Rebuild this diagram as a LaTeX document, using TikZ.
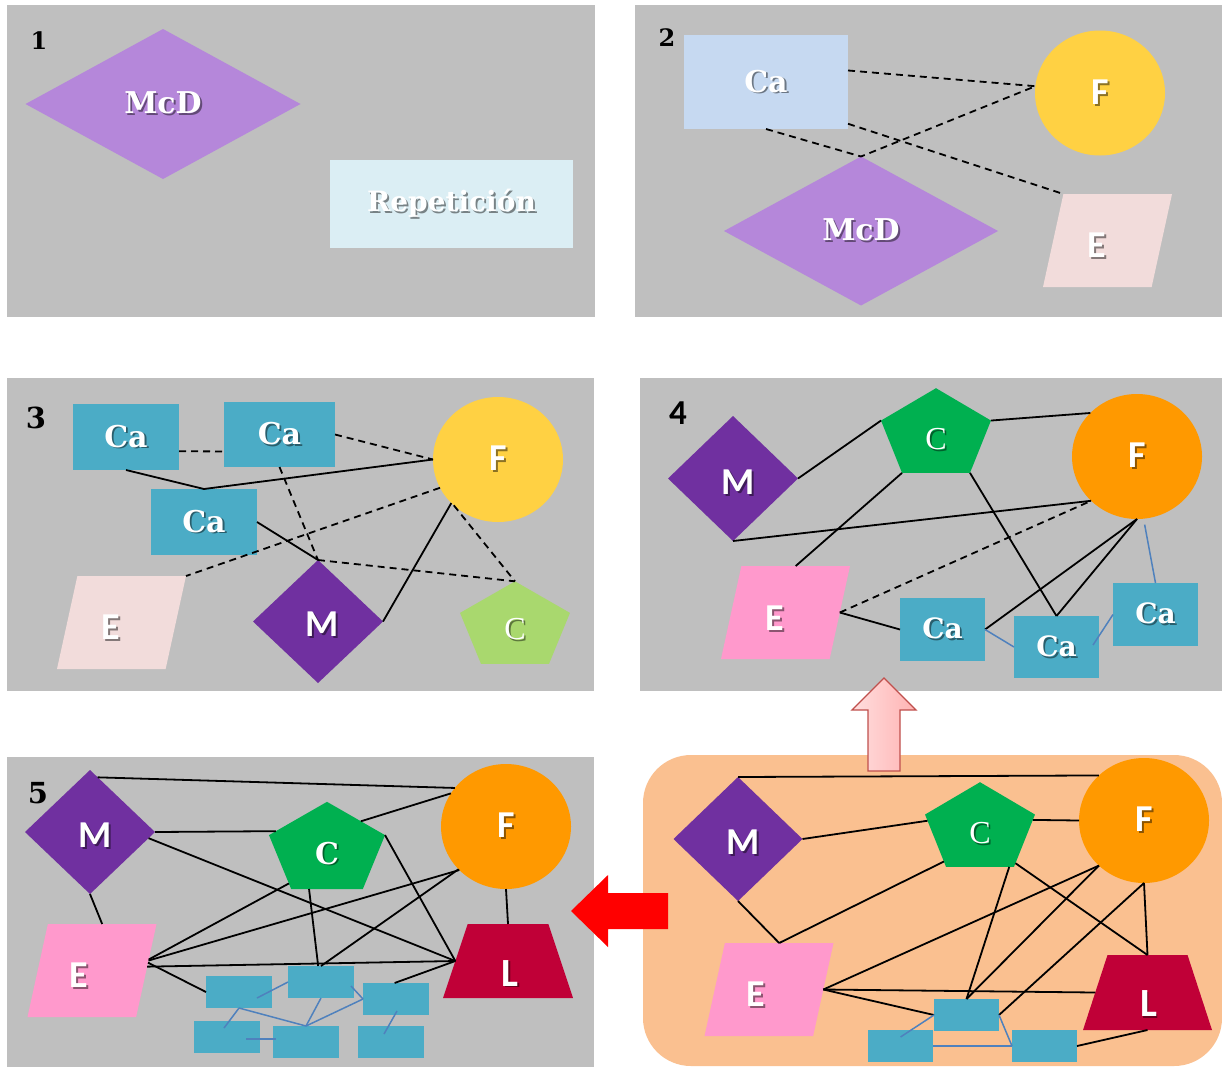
\documentclass[tikz,border=0pt]{standalone}
\usepackage{fontspec}
\usetikzlibrary{shapes.geometric,calc}
\newfontfamily\calfont{Carlito}
\newfontfamily\tnrfont{Liberation Serif}
\newfontfamily\slabfont{DejaVu Serif}

\definecolor{panelgray}{HTML}{BFBFBF}
\definecolor{mcdpurple}{HTML}{B587DA}
\definecolor{repblue}{HTML}{DBEEF4}
\definecolor{calight}{HTML}{C6D9F1}
\definecolor{fyellow}{HTML}{FFD143}
\definecolor{epale}{HTML}{F2DCDB}
\definecolor{teal}{HTML}{4BACC6}
\definecolor{mpurple}{HTML}{7030A0}
\definecolor{cgreenlt}{HTML}{A9D86E}
\definecolor{cgreen}{HTML}{00B050}
\definecolor{forange}{HTML}{FF9900}
\definecolor{epink}{HTML}{FF99CC}
\definecolor{lcrimson}{HTML}{C00037}
\definecolor{bgorange}{HTML}{FAC090}
\definecolor{bluelink}{HTML}{4F81BD}
\definecolor{arrowedge}{HTML}{C0504D}
\definecolor{arrowlt}{HTML}{FFDEDE}
\definecolor{arrowrt}{HTML}{FFB3B3}

% white text with a soft drop shadow
\newcommand\shd[1]{\makebox[0pt][l]{\hspace{1.8pt}\raisebox{-1.8pt}{\pgfsetfillopacity{0.45}\color{black}#1\pgfsetfillopacity{1}}}#1}

\tikzset{
  every node/.style={inner sep=0pt, outer sep=0pt},
  serifb/.style={text=white, font=\slabfont\bfseries\fontsize{30}{30}\selectfont},
  serifbs/.style={text=white, font=\slabfont\bfseries\fontsize{28}{28}\selectfont},
  serifrep/.style={text=white, font=\slabfont\bfseries\fontsize{28}{28}\selectfont},
  sansb/.style={text=white, font=\calfont\bfseries\fontsize{38}{38}\selectfont},
  sansbl/.style={text=white, font=\calfont\bfseries\fontsize{40}{40}\selectfont},
  cfont/.style={text=white, font=\tnrfont\fontsize{32}{32}\selectfont},
  cfontb/.style={text=white, font=\slabfont\bfseries\fontsize{30}{30}\selectfont},
  numsm/.style={text=black, font=\slabfont\bfseries\fontsize{24}{24}\selectfont},
  numbig/.style={text=black, font=\slabfont\bfseries\fontsize{29}{29}\selectfont},
  numsans/.style={text=black, font=\calfont\bfseries\fontsize{35}{35}\selectfont},
  cabox/.style={rectangle, fill=teal},
  dia/.style 2 args={diamond, minimum width=#1, minimum height=#2},
  oval/.style={ellipse, minimum width=130, minimum height=125},
  para/.style={trapezium, inner sep=2pt, trapezium left angle=77, trapezium right angle=103,
    trapezium stretches=true, minimum width=129, minimum height=93},
  trap/.style={trapezium, inner sep=2pt, trapezium left angle=73, trapezium right angle=73,
    trapezium stretches=true, minimum width=130, minimum height=74},
  pent/.style={regular polygon, regular polygon sides=5, transform shape},
  ln/.style={draw=black, line width=1.8},
  dsh/.style={ln, dash pattern=on 7pt off 5pt},
  blu/.style={draw=bluelink, line width=1.5},
}

\begin{document}
\begin{tikzpicture}[x=1pt, y=-1pt]
\useasboundingbox (0,0) rectangle (1222,1068);
\fill[white] (0,0) rectangle (1222,1068);

% panel backgrounds
\fill[panelgray] (7,5) rectangle (595,317);
\fill[panelgray] (635,5) rectangle (1222,317);
\fill[panelgray] (7,378) rectangle (594,691);
\fill[panelgray] (640,378) rectangle (1222,691);
\fill[panelgray] (7,757) rectangle (594,1067);
\fill[bgorange, rounded corners=48] (643,755) rectangle (1222,1066);

% ---------------- panel 1
\node[numsm] (n1) at (39,41) {1};
\node[dia={275}{150}, fill=mcdpurple, serifb] (mcd1) at (163,104) {\shd{McD}};
\node[rectangle, fill=repblue, minimum width=243, minimum height=88, serifrep] (rep1) at (451.5,204) {\shd{Repetición}};

% ---------------- panel 2
\node[numsm] (n2) at (667,38) {2};
\node[rectangle, fill=calight, minimum width=164, minimum height=94, serifb] (ca2) at (766,82) {\shd{Ca}};
\node[oval, fill=fyellow, sansb] (f2) at (1100,93) {\shd{F}};
\node[dia={274}{149}, fill=mcdpurple, serifb] (mcd2) at (861,231) {\shd{McD}};
\node[para, fill=epale] (e2) at (1107.5,240.5) {};
\node[sansb] (e2t) at ($(e2.center)+(-11,6)$) {\shd{E}};

\draw[dsh] (ca2.8) -- (f2.174) -- (mcd2.north);
\draw[dsh] (ca2.south) -- (mcd2.north);
\draw[dsh] (ca2.-27) -- (e2.top left corner);

% ---------------- panel 3
\node[numbig] (n3) at (36,418) {3};
\node[cabox, minimum width=106, minimum height=66, serifb] (ca3a) at (126,437) {\shd{Ca}};
\node[cabox, minimum width=111, minimum height=65, serifb] (ca3b) at (279.5,434.5) {\shd{Ca}};
\node[cabox, minimum width=106, minimum height=66, serifb] (ca3c) at (204,522) {\shd{Ca}};
\node[oval, fill=fyellow, sansb] (f3) at (498,459.5) {\shd{F}};
\node[para, fill=epale] (e3) at (121.5,622.5) {};
\node[sansb] (e3t) at ($(e3.center)+(-11,6)$) {\shd{E}};
\node[dia={130}{123}, fill=mpurple] (m3) at (318,621.5) {};
\node[sansb] (m3t) at ($(m3.center)+(4,4)$) {\shd{M}};
\begin{scope}[shift={(515,627)}]
  \node[pent, yscale=0.79, minimum size=115.6, fill=cgreenlt] (c3) at (0,0) {};
  \node[cfont] (c3t) at (0,3) {\shd{C}};
\end{scope}

\draw[dsh] (ca3a.-15) -- (ca3b.197);
\draw[dsh] (ca3b.east) -- (f3.west);
\draw[ln] (ca3a.south) -- (ca3c.north) -- (f3.west);
\draw[dsh] (ca3b.south) -- (m3.north);
\draw[ln] (ca3c.east) -- (m3.north);
\draw[dsh] (f3.206) -- (e3.top right corner);
\draw[dsh] (m3.north) -- (c3.corner 1);
\draw[ln] (f3.223) -- (m3.east);
\draw[dsh] (f3.226) -- (c3.corner 1);

% ---------------- panel 4
\node[numsans] (n4) at (678,413) {4};
\node[dia={130}{125}, fill=mpurple] (m4) at (733,478.5) {};
\node[sansb] (m4t) at ($(m4.center)+(5,5)$) {\shd{M}};
\begin{scope}[shift={(936,435)}]
  \node[pent, yscale=0.81, minimum size=115.6, fill=cgreen] (c4) at (0,0) {};
  \node[cfont] (c4t) at (0,5) {\shd{C}};
\end{scope}
\node[oval, fill=forange, sansb] (f4) at (1137,456.5) {\shd{F}};
\node[para, fill=epink] (e4) at (785.5,612.5) {};
\node[sansb] (e4t) at ($(e4.center)+(-11,7)$) {\shd{E}};
\node[cabox, minimum width=85, minimum height=63, serifbs] (ca4a) at (942.5,629.5) {\shd{Ca}};
\node[cabox, minimum width=85, minimum height=62, serifbs] (ca4b) at (1056.5,647) {\shd{Ca}};
\node[cabox, minimum width=85, minimum height=63, serifbs] (ca4c) at (1155.5,614.5) {\shd{Ca}};

\draw[ln] (m4.east) -- (c4.corner 2);
\draw[ln] (c4.corner 5) -- (f4.137);
\draw[ln] (m4.south) -- (f4.224);
\draw[ln] (c4.corner 3) -- (e4.top side);
\draw[dsh] (e4.right side) -- (f4.224);
\draw[ln] (e4.right side) -- (ca4a.west);
\draw[ln] (c4.corner 4) -- (ca4b.north);
\draw[ln] (f4.south) -- (ca4a.east);
\draw[ln] (f4.south) -- (ca4b.north);
\draw[blu, shorten <=6pt] (f4.276) -- (ca4c.north);
\draw[blu] (ca4a.east) -- (ca4b.west);
\draw[blu] ($(ca4b.east)+(-6,-2)$) -- (ca4c.west);

% ---------------- panel 5
\node[numbig] (n5) at (38,793) {5};
\node[dia={130}{124}, fill=mpurple] (m5) at (90,832) {};
\node[sansb] (m5t) at ($(m5.center)+(5,4)$) {\shd{M}};
\begin{scope}[shift={(327,850)}]
  \node[pent, yscale=0.79, minimum size=122, fill=cgreen] (c5) at (0,0) {};
  \node[cfontb] (c5t) at (0,4) {\shd{C}};
\end{scope}
\node[oval, fill=forange, sansb] (f5) at (506,826.5) {\shd{F}};
\node[para, fill=epink] (e5) at (92,970.5) {};
\node[sansb] (e5t) at ($(e5.center)+(-13,6)$) {\shd{E}};
\node[trap, fill=lcrimson] (l5) at (508,961) {};
\node[sansbl] (l5t) at ($(l5.center)+(2,13)$) {\shd{L}};
\node[cabox, minimum width=66, minimum height=32] (b51) at (239,992) {};
\node[cabox, minimum width=66, minimum height=32] (b52) at (321,982) {};
\node[cabox, minimum width=66, minimum height=32] (b53) at (396,999) {};
\node[cabox, minimum width=66, minimum height=32] (b54) at (227,1037) {};
\node[cabox, minimum width=66, minimum height=32] (b55) at (306,1042) {};
\node[cabox, minimum width=66, minimum height=32] (b56) at (391,1042) {};

\draw[ln] (m5.82) -- (f5.143);
\draw[ln] (f5.149) -- (c5.47);
\draw[ln] (m5.east) -- (c5.155);
\draw[ln] (m5.-6) -- (l5.left side);
\draw[ln] (c5.corner 5) -- (l5.left side);
\draw[ln] (m5.south) -- (e5.top side);
\draw[ln] (c5.228) -- (e5.11);
\draw[ln] (f5.223) -- (e5.10);
\draw[ln] (f5.222) -- (b52.north);
\draw[ln] (c5.250) -- (b52.100);
\draw[ln] (e5.4) -- (l5.left side);
\draw[ln] (e5.8) -- (b51.west);
\draw[ln] (f5.south) -- (l5.top side);
\draw[ln] (l5.left side) -- (b53.95);
\draw[blu] ($(b51.center)+(18,6)$) -- (b52.west);
\draw[blu] ($(b52.east)+(-3,4)$) -- (b53.west);
\draw[blu] (b51.south) -- ($(b54.center)+(-3,-9)$);
\draw[blu] (b51.south) -- (b55.north);
\draw[blu] (b52.south) -- (b55.north);
\draw[blu] (b55.north) -- (b53.west);
\draw[blu] ($(b54.center)+(19,2)$) -- ($(b55.center)+(-30,-3)$);
\draw[blu] ($(b53.center)+(1,12)$) -- ($(b56.center)+(-7,-8)$);

% ---------------- panel 6
\node[dia={129}{124}, fill=mpurple] (m6) at (738,839) {};
\node[sansb] (m6t) at ($(m6.center)+(5,4)$) {\shd{M}};
\begin{scope}[shift={(980,829)}]
  \node[pent, yscale=0.81, minimum size=115.6, fill=cgreen] (c6) at (0,0) {};
  \node[cfont] (c6t) at (0,5) {\shd{C}};
\end{scope}
\node[oval, fill=forange, sansb] (f6) at (1144,820.5) {\shd{F}};
\node[para, fill=epink] (e6) at (769,989.5) {};
\node[sansb] (e6t) at ($(e6.center)+(-13,6)$) {\shd{E}};
\node[trap, fill=lcrimson, minimum width=129, minimum height=75] (l6) at (1147.5,992.5) {};
\node[sansbl] (l6t) at ($(l6.center)+(1,12)$) {\shd{L}};
\node[cabox, minimum width=65, minimum height=32] (b61) at (966.5,1015) {};
\node[cabox, minimum width=65, minimum height=32] (b62) at (900.5,1046) {};
\node[cabox, minimum width=65, minimum height=32] (b63) at (1044.5,1046) {};

\draw[ln] (m6.north) -- (f6.135);
\draw[ln] (m6.east) -- (c6.169);
\draw[ln] (c6.12) -- (f6.west);
\draw[ln] (m6.south) -- (e6.top side);
\draw[ln] (e6.top side) -- (c6.228);
\draw[ln] (e6.right side) -- (f6.225);
\draw[ln] (e6.right side) -- (l6.left side);
\draw[ln] (e6.right side) -- (b61.west);
\draw[ln] (c6.302) -- (b61.north);
\draw[ln] (f6.225) -- (b61.north);
\draw[ln] (c6.310) -- (l6.top side);
\draw[ln] (f6.south) -- (l6.top side);
\draw[ln] (f6.south) -- (b61.east);
\draw[ln] (b63.east) -- (l6.bottom side);
\draw[blu] ($(b62.center)+(0,-9)$) -- (b61.west);
\draw[blu] (b62.east) -- (b63.west);
\draw[blu] (b61.east) -- (b63.west);

% block arrows
\draw[draw=arrowedge, line width=1.3, line join=miter, left color=arrowlt, right color=arrowrt]
  (884,678) -- (916,710) -- (900,710) -- (900,771) -- (868,771) -- (868,710) -- (852,710) -- cycle;
\fill[red] (571,911) -- (608,875) -- (608,893) -- (668,893) -- (668,929) -- (608,929) -- (608,947) -- cycle;
\end{tikzpicture}
\end{document}
